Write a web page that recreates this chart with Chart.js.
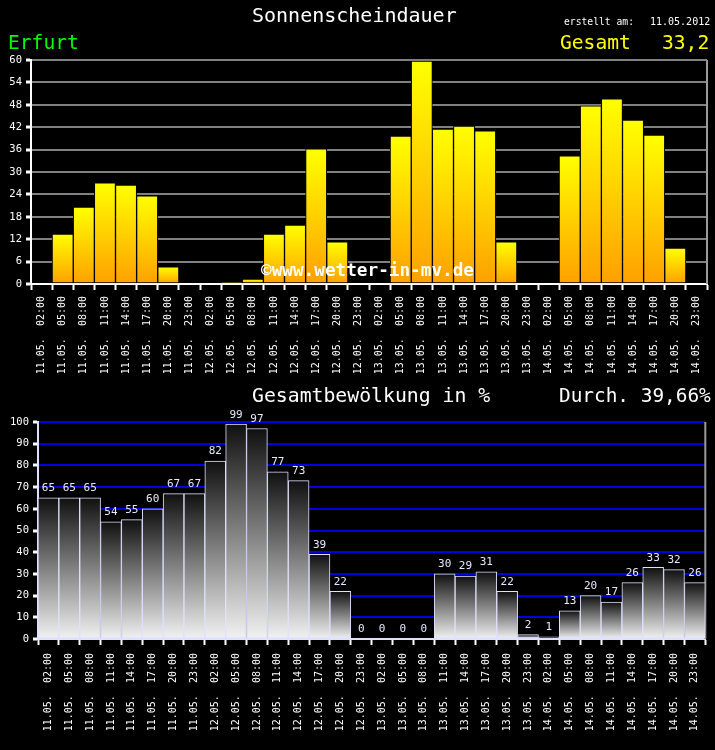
<!DOCTYPE html>
<html>
<head>
<meta charset="utf-8">
<script src="https://cdn.jsdelivr.net/npm/chart.js@4/dist/chart.umd.min.js"></script>
<style>
  body { margin: 0; background: #000; }
  #wrap { position: relative; width: 715px; height: 750px; background: #000; overflow: hidden; }
  .txt { position: absolute; font-family: "DejaVu Sans Mono", monospace; line-height: 1; white-space: pre; }
  canvas { position: absolute; left: 0; display: block; }
</style>
</head>
<body>
<div id="wrap">
  <canvas id="sun" width="715" height="375" style="top:0"></canvas>
  <canvas id="cloud" width="715" height="375" style="top:375px"></canvas>

  <div class="txt" style="left:252px;top:5px;font-size:20px;color:#fff">Sonnenscheindauer</div>
  <div class="txt" style="left:564px;top:17px;font-size:9.7px;color:#fff">erstellt am:</div>
  <div class="txt" style="left:650px;top:17px;font-size:10px;color:#fff">11.05.2012</div>
  <div class="txt" style="left:8px;top:33px;font-size:19.6px;color:#00ff00">Erfurt</div>
  <div class="txt" style="left:560px;top:33px;font-size:19.6px;color:#ffff00">Gesamt</div>
  <div class="txt" style="left:662px;top:33px;font-size:19.6px;color:#ffff00">33,2</div>
  <div class="txt" style="left:261px;top:262px;font-size:17.7px;font-weight:bold;color:#fff">©www.wetter-in-mv.de</div>

  <div class="txt" style="left:252px;top:386px;font-size:19.8px;color:#fff">Gesamtbewölkung in %</div>
  <div class="txt" style="left:559px;top:386px;font-size:19.4px;color:#fff">Durch. 39,66%</div>
</div>

<script>
// Sonnenschein / Bewölkung - 4 Tage, 3-Stunden-Werte
const days = ['11.05.', '12.05.', '13.05.', '14.05.'];
const hours = ['02:00', '05:00', '08:00', '11:00', '14:00', '17:00', '20:00', '23:00'];

const sunshine = [
    0, 13.4, 20.6, 27.1, 26.5, 23.6, 4.6, 0,
    0, 0.3, 1.3, 13.4, 15.8, 36.2, 11.3, 0,
    0, 39.6, 59.7, 41.5, 42.3, 41.0, 11.3, 0,
    0, 34.3, 47.7, 49.6, 43.9, 39.9, 9.6, 0
];

const cloudCover = [
    65, 65, 65, 54, 55, 60, 67, 67,
    82, 99, 97, 77, 73, 39, 22, 0,
    0, 0, 0, 30, 29, 31, 22, 2,
    1, 13, 20, 17, 26, 33, 32, 26
];

const sunTicks = [0, 60, 6];     // min, max, step
const cloudTicks = [0, 100, 10];

// Label "11.05.  02:00" -> rotiert, Uhrzeit am Achsenrand
const labels = [];
days.forEach(d => hours.forEach(h => labels.push(d + '  ' + h)));

const FONT = 'DejaVu Sans Mono';

// Verlauf je Balken (oben -> unten)
function barGradient(topColor, bottomColor) {
    return function(ctx) {
        const chart = ctx.chart;
        const y = chart.scales.y;
        if (!chart.chartArea || !y || ctx.raw === undefined) return bottomColor;
        const top = y.getPixelForValue(ctx.raw);
        const bot = y.getPixelForValue(0);
        if (bot - top < 1) return bottomColor;
        const g = chart.ctx.createLinearGradient(0, top, 0, bot);
        g.addColorStop(0, topColor);
        g.addColorStop(1, bottomColor);
        return g;
    };
}

// rechter Rahmen
const rightBorder = {
    id: 'rightBorder',
    beforeDatasetsDraw(chart, args, opts) {
        const { ctx, chartArea } = chart;
        ctx.save();
        ctx.strokeStyle = opts.color || '#999';
        ctx.lineWidth = 2;
        ctx.beginPath();
        ctx.moveTo(chartArea.right, chartArea.top);
        ctx.lineTo(chartArea.right, chartArea.bottom);
        ctx.stroke();
        ctx.restore();
    }
};

// Werte über den Balken
const valueLabels = {
    id: 'valueLabels',
    afterDatasetsDraw(chart) {
        const { ctx } = chart;
        const meta = chart.getDatasetMeta(0);
        const data = chart.data.datasets[0].data;
        ctx.save();
        ctx.font = '11px "' + FONT + '"';
        ctx.fillStyle = '#e8e8ff';
        ctx.textAlign = 'center';
        ctx.textBaseline = 'bottom';
        meta.data.forEach((bar, i) => {
            ctx.fillText(String(data[i]), bar.x, bar.y - 4);
        });
        ctx.restore();
    }
};

function makeChart(canvasId, values, tickCfg, opts) {
    return new Chart(document.getElementById(canvasId), {
        type: 'bar',
        data: {
            labels: labels,
            datasets: [{
                data: values,
                backgroundColor: barGradient(opts.barTop, opts.barBottom),
                borderColor: opts.barBorder,
                borderWidth: 1,
                borderSkipped: false,
                barPercentage: 1,
                categoryPercentage: 1
            }]
        },
        options: {
            responsive: false,
            animation: false,
            events: [],
            layout: { padding: { top: opts.padTop, right: 8, left: 0, bottom: 0 } },
            plugins: {
                legend: { display: false },
                tooltip: { enabled: false },
                rightBorder: { color: '#9a9a9a' }
            },
            scales: {
                x: {
                    afterFit: s => { s.height = opts.xHeight; },
                    border: { color: opts.axisColor, width: 2 },
                    grid: {
                        drawOnChartArea: false,
                        drawTicks: true,
                        tickLength: 6,
                        tickWidth: 2,
                        tickColor: '#fff'
                    },
                    ticks: {
                        color: '#fff',
                        font: { family: FONT, size: 10 },
                        autoSkip: false,
                        minRotation: 90,
                        maxRotation: 90,
                        padding: opts.xPad
                    }
                },
                y: {
                    min: tickCfg[0],
                    max: tickCfg[1],
                    afterFit: s => { s.width = opts.yWidth; },
                    border: { color: opts.axisColor, width: 2 },
                    grid: {
                        color: c => c.tick && c.tick.value === 0 ? 'rgba(0,0,0,0)' : opts.gridColor,
                        lineWidth: 2,
                        tickLength: 5,
                        tickWidth: 3,
                        tickColor: '#fff'
                    },
                    ticks: {
                        stepSize: tickCfg[2],
                        color: '#fff',
                        font: { family: FONT, size: 10.5 },
                        padding: 4
                    }
                }
            }
        },
        plugins: opts.plugins
    });
}

makeChart('sun', sunshine, sunTicks, {
    barTop: '#ffff00', barBottom: '#ffa000', barBorder: '#000',
    axisColor: '#fff', gridColor: '#808080',
    padTop: 60, xHeight: 91, yWidth: 31, xPad: 6,
    plugins: [rightBorder]
});

makeChart('cloud', cloudCover, cloudTicks, {
    barTop: '#101010', barBottom: '#f2f2f2', barBorder: '#e0e0ff',
    axisColor: '#e0e0ff', gridColor: '#0000dd',
    padTop: 47, xHeight: 111, yWidth: 38, xPad: 8,
    plugins: [rightBorder, valueLabels]
});
</script>
</body>
</html>
